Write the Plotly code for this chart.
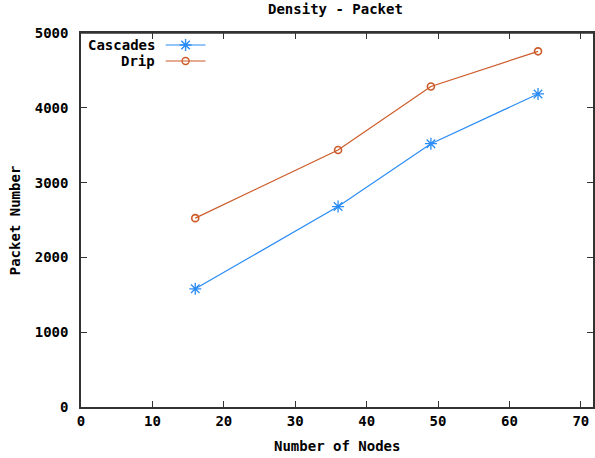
import plotly.graph_objects as go

nodes = [16, 36, 49, 64]
cascades = [1580, 2680, 3520, 4185]
drip = [2525, 3435, 4285, 4755]
series_names = ["Cascades", "Drip"]
x_ticks = [0, 10, 20, 30, 40, 50, 60, 70]
y_ticks = [0, 1000, 2000, 3000, 4000, 5000]

BLUE = "#2a8cf5"
ORANGE = "#cc5a28"
AX = "#333333"
FONT = dict(family="DejaVu Sans Mono", size=14, color="#000000", weight="bold")

W, H = 595, 458
L, R, T, B = 81, 0, 33, 51
PW, PH = W - L - R, H - T - B
XR = [0, 71.7]
YR = [0, 5000]


def px(x):
    return (x - L) / PW


def py(y):
    return (H - B - y) / PH


def dx(x):  # pixel -> data x (for legend layout only)
    return XR[0] + px(x) * (XR[1] - XR[0])


def dy(y):  # pixel -> data y (for legend layout only)
    return YR[0] + py(y) * (YR[1] - YR[0])


fig = go.Figure()

fig.add_trace(go.Scatter(
    x=nodes, y=cascades, mode="lines+markers", name=series_names[0],
    line=dict(color=BLUE, width=1.2),
    marker=dict(symbol="asterisk-open", size=10, color=BLUE, line=dict(color=BLUE, width=1.3)),
    showlegend=False))
fig.add_trace(go.Scatter(
    x=nodes, y=drip, mode="lines+markers", name=series_names[1],
    line=dict(color=ORANGE, width=1.2),
    marker=dict(symbol="circle-open", size=7, color=ORANGE, line=dict(color=ORANGE, width=1.6)),
    showlegend=False))

# legend drawn in the gnuplot style (text left, sample right)
leg_rows = [(45, BLUE, "asterisk-open", 10, series_names[0]),
            (61, ORANGE, "circle-open", 7, series_names[1])]
for ly, col, sym, sz, name in leg_rows:
    fig.add_trace(go.Scatter(x=[dx(166), dx(206)], y=[dy(ly), dy(ly)], mode="lines",
                             line=dict(color=col, width=1.2),
                             showlegend=False, hoverinfo="skip"))
    fig.add_trace(go.Scatter(x=[dx(186)], y=[dy(ly)], mode="markers",
                             marker=dict(symbol=sym, size=sz, color=col,
                                         line=dict(color=col, width=1.4)),
                             showlegend=False, hoverinfo="skip"))
    fig.add_annotation(x=px(157), y=py(ly), xref="paper", yref="paper", text=name,
                       showarrow=False, xanchor="right", yanchor="middle", font=FONT)

tick_common = dict(ticks="inside", ticklen=6, tickwidth=1.2, tickcolor=AX,
                   showgrid=False, zeroline=False, showline=True, linecolor=AX,
                   linewidth=1.5, mirror="ticks", tickfont=FONT)

fig.update_layout(
    width=W, height=H,
    margin=dict(l=L, r=R, t=T, b=B),
    paper_bgcolor="white", plot_bgcolor="white",
    font=FONT,
    xaxis=dict(range=XR, tickvals=x_ticks, ticktext=[str(v) for v in x_ticks],
               **tick_common),
    yaxis=dict(range=YR, tickvals=y_ticks, ticktext=[str(v) for v in y_ticks],
               ticklabelstandoff=8, **tick_common),
)

# top border of the frame
fig.add_shape(type="line", xref="paper", yref="paper", x0=0, x1=1, y0=1, y1=1,
              line=dict(color=AX, width=1.5), layer="above")

fig.add_annotation(x=px(336), y=py(9), xref="paper", yref="paper", text="Density - Packet",
                   showarrow=False, xanchor="center", yanchor="middle", font=FONT)
fig.add_annotation(x=px(338), y=py(446), xref="paper", yref="paper", text="Number of Nodes",
                   showarrow=False, xanchor="center", yanchor="middle", font=FONT)
fig.add_annotation(x=px(15), y=py(220), xref="paper", yref="paper", text="Packet Number",
                   textangle=-90, showarrow=False, xanchor="center", yanchor="middle",
                   font=FONT)

fig.write_html("out.html")
